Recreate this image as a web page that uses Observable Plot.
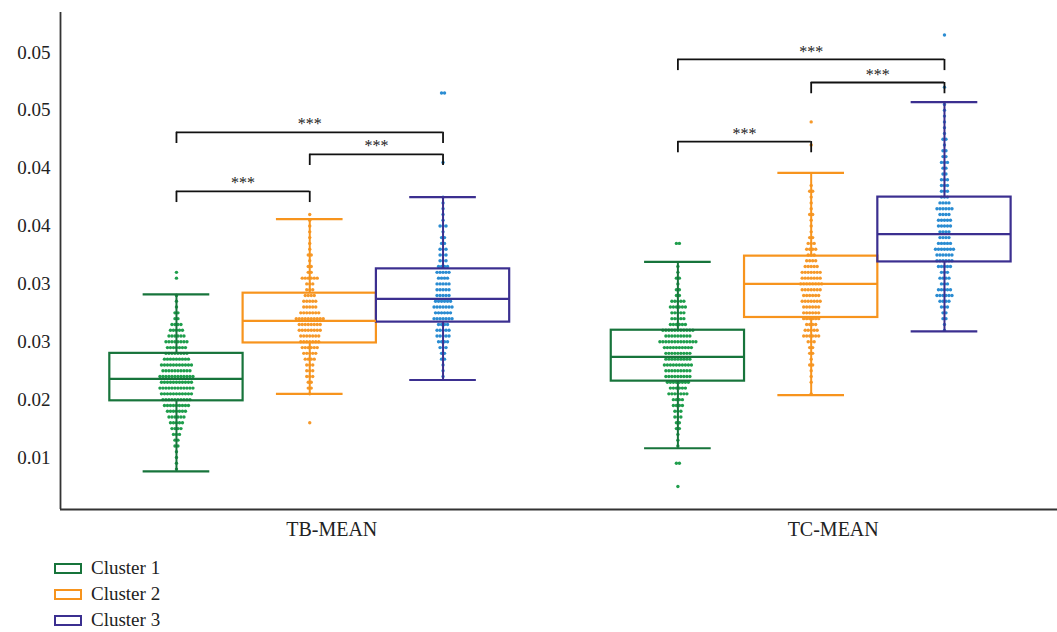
<!DOCTYPE html>
<html><head><meta charset="utf-8">
<script src="https://cdn.jsdelivr.net/npm/d3@7"></script>
<script src="https://cdn.jsdelivr.net/npm/@observablehq/plot@0.6"></script>
<style>
body{margin:0;background:#fff;font-family:"Liberation Serif",serif;}
#legend{margin-left:54px;margin-top:10px}
.item{display:flex;align-items:center;height:26px;font-size:19px;color:#222}
.sw{width:28px;height:11px;box-sizing:border-box;border:2px solid;margin-right:9px}
</style></head><body><div id="chart"></div><div id="legend"></div>
<script>
// ---- data ----
const groups = ["TB-MEAN", "TC-MEAN"];
const clusters = ["Cluster 1", "Cluster 2", "Cluster 3"];
const boxColors = ["#17743b", "#f7941d", "#3b2f90"];
const dotColors = ["#1f9e4c", "#f6992a", "#2a8cd2"];

const yTicks = [0.015, 0.020, 0.025, 0.030, 0.035, 0.040, 0.045, 0.050];
const yTickLabels = ["0.01", "0.02", "0.03", "0.03", "0.04", "0.04", "0.05", "0.05"];

// box statistics, order: TB C1, TB C2, TB C3, TC C1, TC C2, TC C3
const boxGroup   = [0, 0, 0, 1, 1, 1];
const boxCluster = [0, 1, 2, 0, 1, 2];
const whiskerLow  = [0.0138, 0.0205, 0.0217, 0.0158, 0.0204, 0.0259];
const q1          = [0.0199, 0.0249, 0.0267, 0.0216, 0.0271, 0.0319];
const median      = [0.0218, 0.0268, 0.0287, 0.0237, 0.0300, 0.0343];
const q3          = [0.0240, 0.0292, 0.0313, 0.0260, 0.0324, 0.0375];
const whiskerHigh = [0.0291, 0.0356, 0.0375, 0.0319, 0.0396, 0.0457];

// swarm: number of points per 0.0005-wide level, starting at swarmStart
const binStep = 0.0005;
const swarmStart = [0.0140, 0.0180, 0.0220, 0.0125, 0.0205, 0.0260];
const tbCluster1Counts = [1,1,1,1,2,2,3,4,5,6,7,9,10,11,12,11,12,10,11,9,8,7,8,6,5,4,2,2,1,1,1,0,0,1,1];
const tbCluster2Counts = [1,0,0,0,0,1,2,2,3,3,3,4,5,6,7,7,8,8,10,7,5,5,4,3,3,6,2,2,1,2,1,1,1,1,1,1,1];
const tbCluster3Counts = [1,1,1,2,2,3,4,5,5,4,7,6,7,6,5,5,5,4,5,4,3,3,3,2,2,1,3,1,1,1,1,1,0,0,0,0,0,1,0,0,0,0,0,0,0,0,0,0,0,2];
const tcCluster1Counts = [1,0,0,0,2,0,0,1,1,1,2,2,3,3,4,4,7,6,8,9,9,10,9,9,10,13,9,11,6,5,5,6,5,2,2,1,2,1,1,0,0,0,2];
const tcCluster2Counts = [1,0,1,1,1,2,1,2,2,3,6,5,4,6,6,6,7,6,7,8,7,7,5,4,3,4,3,2,1,1,1,2,1,1,1,2,1,0,0,0,0,0,0,1,0,0,0,1];
const tcCluster3Counts = [1,1,2,2,3,4,6,5,3,4,3,5,6,6,7,5,4,4,5,5,4,6,4,3,3,3,3,2,2,3,2,2,1,2,1,1,1,1,1,1,0,0,1,0,0,0,0,0,0,0,0,1];
const swarmCounts = [tbCluster1Counts, tbCluster2Counts, tbCluster3Counts, tcCluster1Counts, tcCluster2Counts, tcCluster3Counts];

// significance brackets
const bracketGroup = [0, 0, 0, 1, 1, 1];
const bracketFrom  = [0, 1, 0, 0, 1, 0];
const bracketTo    = [1, 2, 2, 1, 2, 2];
const bracketLevel = [0.0380, 0.0412, 0.0431, 0.0423, 0.0474, 0.0494];
const bracketLabel = ["***", "***", "***", "***", "***", "***"];

// ---- layout helpers ----
const groupStep = 3.762;      // distance between the first clusters of two groups (cluster units)
const dotGap = 0.0225;        // horizontal swarm spacing (cluster units)
const drop = 0.00097;         // bracket leg length
const pos = (g, c) => g * groupStep + c;

const boxes = boxGroup.map((g, i) => ({
  g, c: boxCluster[i], lo: whiskerLow[i], q1: q1[i], med: median[i], q3: q3[i], hi: whiskerHigh[i]
}));

const points = [];
swarmCounts.forEach((counts, k) => {
  const g = boxGroup[k], c = boxCluster[k];
  counts.forEach((n, i) => {
    const v = swarmStart[k] + i * binStep;
    for (let j = 0; j < n; j++) points.push({g, c, v, o: j - (n - 1) / 2});
  });
});

const brackets = bracketGroup.map((g, i) => ({
  g, a: pos(g, bracketFrom[i]), b: pos(g, bracketTo[i]), y: bracketLevel[i], label: bracketLabel[i]
}));

const xMin = -0.87, xMax = 6.61, yMin = 0.01051, yMax = 0.05345;
const groupCenters = groups.map((_, g) => pos(g, 1));

const chart = Plot.plot({
  width: 1057, height: 545,
  marginLeft: 60, marginRight: 0, marginTop: 12, marginBottom: 36,
  style: {fontFamily: "'Liberation Serif', serif", fontSize: "20px", color: "#222", background: "#fff"},
  x: {domain: [xMin, xMax], axis: null},
  y: {domain: [yMin, yMax], axis: null},
  color: {type: "identity"},
  marks: [
    Plot.axisY(yTicks, {tickSize: 0, tickPadding: 10, tickFormat: d => yTickLabels[yTicks.indexOf(d)], fontSize: 19}),
    Plot.axisX(groupCenters, {tickSize: 0, tickPadding: 12, tickFormat: d => groups[groupCenters.indexOf(d)], dx: 22, fontSize: 20}),
    Plot.dot(points, {x: d => pos(d.g, d.c) + d.o * dotGap, y: "v", r: 1.7, fill: d => dotColors[d.c], stroke: null}),
    Plot.ruleX(boxes, {x: d => pos(d.g, d.c), y1: "lo", y2: "q1", stroke: d => boxColors[d.c], strokeWidth: 2}),
    Plot.ruleX(boxes, {x: d => pos(d.g, d.c), y1: "q3", y2: "hi", stroke: d => boxColors[d.c], strokeWidth: 2}),
    Plot.ruleY(boxes, {x1: d => pos(d.g, d.c) - 0.25, x2: d => pos(d.g, d.c) + 0.25, y: "lo", stroke: d => boxColors[d.c], strokeWidth: 2.2}),
    Plot.ruleY(boxes, {x1: d => pos(d.g, d.c) - 0.25, x2: d => pos(d.g, d.c) + 0.25, y: "hi", stroke: d => boxColors[d.c], strokeWidth: 2.2}),
    Plot.rect(boxes, {x1: d => pos(d.g, d.c) - 0.5, x2: d => pos(d.g, d.c) + 0.5, y1: "q1", y2: "q3", fill: "none", stroke: d => boxColors[d.c], strokeWidth: 2.2}),
    Plot.ruleY(boxes, {x1: d => pos(d.g, d.c) - 0.5, x2: d => pos(d.g, d.c) + 0.5, y: "med", stroke: d => boxColors[d.c], strokeWidth: 2.2}),
    // brackets
    Plot.ruleY(brackets, {x1: "a", x2: "b", y: "y", stroke: "#111", strokeWidth: 1.8}),
    Plot.ruleX(brackets, {x: "a", y1: "y", y2: d => d.y - drop, stroke: "#111", strokeWidth: 1.8}),
    Plot.ruleX(brackets, {x: "b", y1: "y", y2: d => d.y - drop, stroke: "#111", strokeWidth: 1.8}),
    Plot.text(brackets, {x: d => (d.a + d.b) / 2, y: "y", text: "label", dy: -8, fontSize: 16, fill: "#222"}),
    // axis lines
    Plot.ruleX([xMin], {stroke: "#333", strokeWidth: 1.8}),
    Plot.ruleY([yMin], {stroke: "#333", strokeWidth: 1.8})
  ]
});
document.getElementById("chart").appendChild(chart);

const legend = document.getElementById("legend");
clusters.forEach((name, i) => {
  const item = document.createElement("div");
  item.className = "item";
  const sw = document.createElement("span");
  sw.className = "sw";
  sw.style.borderColor = boxColors[i];
  item.appendChild(sw);
  item.appendChild(document.createTextNode(name));
  legend.appendChild(item);
});
</script></body></html>
